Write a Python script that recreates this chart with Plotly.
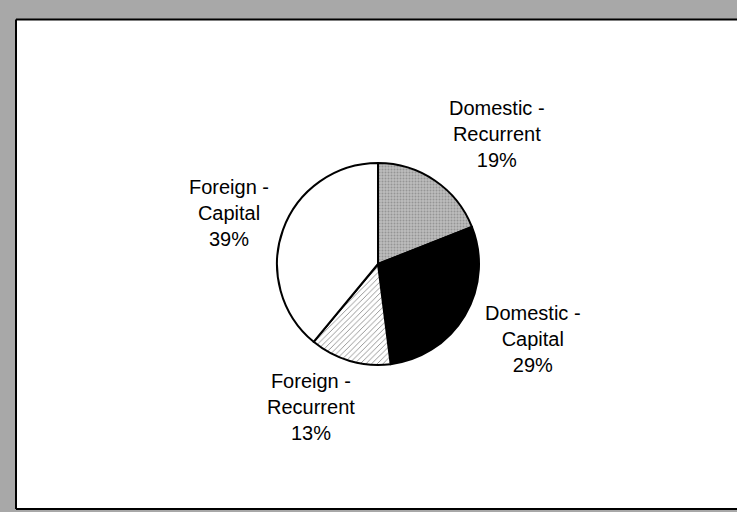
import plotly.graph_objects as go

# Budget split by source and expenditure type (percent of total)
sources = ["Domestic", "Domestic", "Foreign", "Foreign"]
kinds = ["Recurrent", "Capital", "Recurrent", "Capital"]
shares = [19, 29, 13, 39]

W, H = 737, 512
FONT = "Liberation Sans, Arial, sans-serif"

# slice fills: stippled grey, solid black, hatched white, plain white
fills = ["#bcbcbc", "#000000", "#ffffff", "#ffffff"]
pat_shapes = [".", "", "/", ""]
pat_fg = ["#6e6e6e", "#000000", "#000000", "#000000"]
pat_size = [3, 8, 4, 8]
pat_solid = [0.35, 0.3, 0.2, 0.3]

# pie geometry in pixels
cx, cy, r = 378, 264, 101

fig = go.Figure()
fig.add_trace(go.Pie(
    labels=[f"{s} - {k}" for s, k in zip(sources, kinds)],
    values=shares,
    sort=False,
    direction="clockwise",
    rotation=0,
    textinfo="none",
    hoverinfo="label+percent",
    showlegend=False,
    marker=dict(
        colors=fills,
        line=dict(color="#000000", width=2),
        pattern=dict(shape=pat_shapes, fgcolor=pat_fg, size=pat_size,
                     solidity=pat_solid, fillmode="overlay"),
    ),
    domain=dict(x=[(cx - r) / W, (cx + r) / W],
                y=[1 - (cy + r) / H, 1 - (cy - r) / H]),
))

# label anchor points (pixel centres of each text block)
label_pos = [(497, 134), (533, 339), (311, 407), (229, 213)]
for s, k, v, (lx, ly) in zip(sources, kinds, shares, label_pos):
    fig.add_annotation(
        x=lx / W, y=1 - ly / H, xref="paper", yref="paper",
        text=f"{s} -<br>{k}<br>{v}%",
        showarrow=False, align="center",
        xanchor="center", yanchor="middle",
        font=dict(family=FONT, size=20, color="#000000"),
    )

# grey frame with the white chart area inset (open on the right side)
x0, y_top, y_bot = 16 / W, 1 - 19.5 / H, 1 - 509 / H
frame = [
    dict(type="rect", xref="paper", yref="paper", layer="below",
         x0=x0, x1=1, y0=y_bot, y1=y_top,
         fillcolor="#ffffff", line=dict(width=0)),
    dict(type="line", xref="paper", yref="paper", layer="below",
         x0=x0, x1=1, y0=y_top, y1=y_top, line=dict(color="#000000", width=2)),
    dict(type="line", xref="paper", yref="paper", layer="below",
         x0=x0, x1=1, y0=y_bot, y1=y_bot, line=dict(color="#000000", width=2)),
    dict(type="line", xref="paper", yref="paper", layer="below",
         x0=x0, x1=x0, y0=y_bot, y1=y_top, line=dict(color="#000000", width=2)),
]

fig.update_layout(
    width=W, height=H,
    margin=dict(l=0, r=0, t=0, b=0),
    paper_bgcolor="#a8a8a8",
    plot_bgcolor="#ffffff",
    shapes=frame,
)

fig.write_html("out.html", config={"displayModeBar": False})
